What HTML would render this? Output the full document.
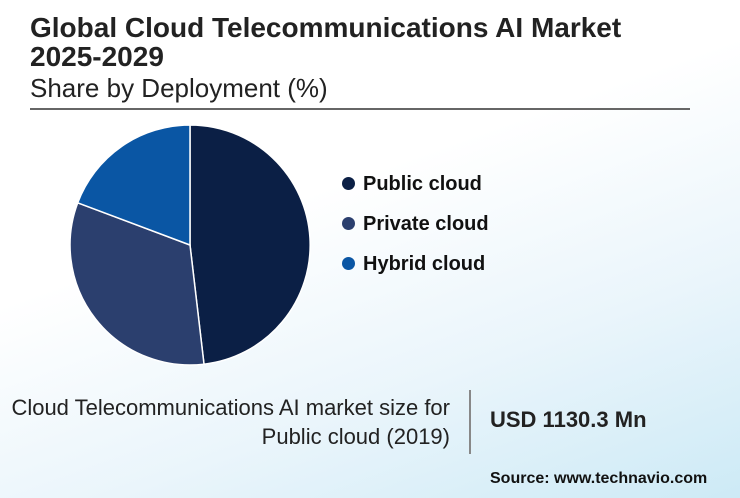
<!DOCTYPE html>
<html><head><style>
body{margin:0;width:740px;height:498px;overflow:hidden;font-family:"Liberation Sans",sans-serif;
background:linear-gradient(160deg,#ffffff 0%,#ffffff 40%,#eaf5fb 70%,#cdeaf6 100%);position:relative}
.t{position:absolute;left:30px;top:13px;font-size:28px;font-weight:bold;color:#222;line-height:29px}
.s{position:absolute;left:30px;top:73px;font-size:26px;color:#222}
.hr{position:absolute;left:30px;top:108px;width:660px;height:2px;background:#666}
.lg{position:absolute;left:342px;font-size:20px;font-weight:bold;color:#111}
.lg i{display:inline-block;width:13px;height:13px;border-radius:50%;margin-right:8px;vertical-align:0px}
.d{position:absolute;right:290px;top:393px;text-align:right;font-size:22px;color:#222;line-height:29px}
.v{position:absolute;left:469px;top:390px;width:2px;height:64px;background:#888}
.u{position:absolute;left:490px;top:407px;font-size:22px;font-weight:bold;color:#222}
.src{position:absolute;left:490px;top:470px;font-size:16px;font-weight:bold;color:#111}
</style></head><body>
<div class="t">Global Cloud Telecommunications AI Market<br>2025-2029</div>
<div class="s">Share by Deployment (%)</div>
<div class="hr"></div>
<svg style="position:absolute;left:0;top:0" width="740" height="498">
<path d="M190,245 L190,125 A120,120 0 0 1 204,364.2 Z" fill="#0b1f45" stroke="#fff" stroke-width="1.5"/>
<path d="M190,245 L204,364.2 A120,120 0 0 1 77.7,202.8 Z" fill="#2b3f6e" stroke="#fff" stroke-width="1.5"/>
<path d="M190,245 L77.7,202.8 A120,120 0 0 1 190,125 Z" fill="#0a56a4" stroke="#fff" stroke-width="1.5"/>
</svg>
<div class="lg" style="top:173px"><i style="background:#0b1f45"></i>Public cloud</div>
<div class="lg" style="top:213px"><i style="background:#2b3f6e"></i>Private cloud</div>
<div class="lg" style="top:253px"><i style="background:#0a56a4"></i>Hybrid cloud</div>
<div class="d">Cloud Telecommunications AI market size for<br>Public cloud (2019)</div>
<div class="v"></div>
<div class="u">USD 1130.3 Mn</div>
<div class="src">Source: www.technavio.com</div>
</body></html>
